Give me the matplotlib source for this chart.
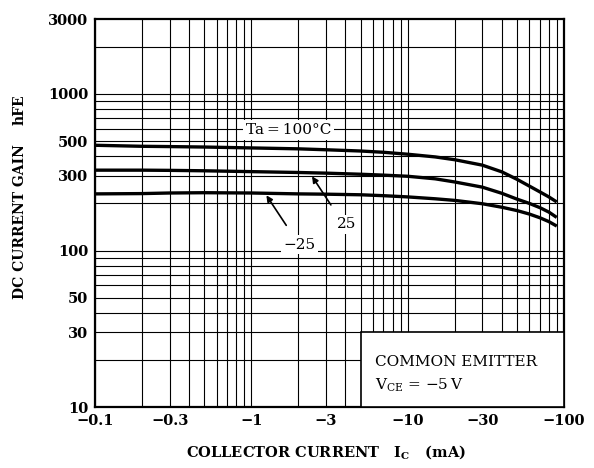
import matplotlib
matplotlib.use("Agg")
from matplotlib import pyplot as plt
from matplotlib.patches import Rectangle
from matplotlib.ticker import FixedLocator, NullFormatter

# collector current (mA, magnitude) and hFE
ic = [0.1, 0.2, 0.3, 0.5, 1, 2, 3, 5, 7, 10, 15, 20, 30, 40, 50, 60, 70, 80, 88]
hfe_100 = [470, 463, 461, 458, 452, 446, 440, 432, 424, 412, 396, 380, 351, 318,
           285, 258, 237, 220, 207]
hfe_25 = [326, 326, 325, 323, 319, 315, 312, 307, 303, 298, 287, 274, 254, 232,
          213, 200, 188, 176, 165]
hfe_m25 = [230, 231, 233, 234, 233, 230, 229, 227, 224, 220, 214, 209, 199, 189,
           180, 171, 162, 153, 145]

x_ticks = [0.1, 0.3, 1, 3, 10, 30, 100]
x_labels = ["\u22120.1", "\u22120.3", "\u22121", "\u22123", "\u221210", "\u221230", "\u2212100"]
y_ticks = [10, 30, 50, 100, 300, 500, 1000, 3000]
y_labels = ["10", "30", "50", "100", "300", "500", "1000", "3000"]

plt.rcParams["font.family"] = ["DejaVu Serif"]

fig = plt.figure(figsize=(5.94, 4.68), dpi=100)
ax = fig.add_axes([0.16, 0.130, 0.7895, 0.829])
ax.set_xscale("log")
ax.set_yscale("log")
ax.set_xlim(0.1, 100)
ax.set_ylim(10, 3000)

# grid at every 1..9 multiple
xgrid = [m * d for d in (0.1, 1, 10) for m in range(1, 10)] + [100]
ygrid = [m * d for d in (10, 100) for m in range(1, 10)] + [1000, 2000]
for xv in xgrid:
    ax.axvline(xv, color="black", lw=0.8, zorder=1)
for yv in ygrid:
    ax.axhline(yv, color="black", lw=0.8, zorder=1)

ax.xaxis.set_major_locator(FixedLocator(x_ticks))
ax.xaxis.set_minor_locator(FixedLocator([]))
ax.yaxis.set_major_locator(FixedLocator(y_ticks))
ax.yaxis.set_minor_locator(FixedLocator([]))
ax.xaxis.set_minor_formatter(NullFormatter())
ax.yaxis.set_minor_formatter(NullFormatter())
ax.set_xticklabels(x_labels, fontsize=10.5, fontweight="bold")
ax.set_yticklabels(y_labels, fontsize=10.5, fontweight="bold")
ax.tick_params(length=0, pad=5)
for s in ax.spines.values():
    s.set_linewidth(1.6)

# curves
for yy in (hfe_100, hfe_25, hfe_m25):
    ax.plot(ic, yy, color="black", lw=2.4, zorder=4, solid_joinstyle="round")

wbox = dict(facecolor="white", edgecolor="none", pad=2)
ax.text(1.73, 590, "Ta\u2009=\u2009100\u00b0C", fontsize=11, ha="center", va="center",
        bbox=wbox, zorder=5)
ax.text(4.06, 147, "25", fontsize=11, ha="center", va="center", bbox=wbox, zorder=5)
ax.text(2.03, 109, "\u221225", fontsize=11, ha="center", va="center", bbox=wbox, zorder=5)

arr = dict(arrowstyle="-|>", color="black", lw=1.2, mutation_scale=9)
ax.annotate("", xy=(2.39, 308), xytext=(3.3, 189), arrowprops=arr, zorder=5)
ax.annotate("", xy=(1.22, 233), xytext=(1.71, 140), arrowprops=arr, zorder=5)

# condition box
ax.add_patch(Rectangle((5, 10), 95, 20, facecolor="white", edgecolor="black",
                       lw=1.2, zorder=3))
ax.text(6.2, 19.5, "COMMON EMITTER", fontsize=11, va="center", zorder=6)
ax.text(6.2, 13.8, "V$_{\\mathregular{CE}}$ = \u22125\u2009V", fontsize=11, va="center", zorder=6)

# axis titles
fig.text(326 / 594, 1 - 453 / 468, "COLLECTOR CURRENT   I$_{\\mathregular{C}}$   (mA)",
         fontsize=10.5, fontweight="bold", ha="center", va="center")
fig.text(20 / 594, 1 - 222 / 468, "DC CURRENT GAIN", fontsize=10, fontweight="bold",
         rotation=90, ha="center", va="center")
fig.text(20 / 594, 1 - 110 / 468, "hFE", fontsize=10, fontweight="bold", rotation=90,
         ha="center", va="center")

fig.savefig("out.png", dpi=100)
